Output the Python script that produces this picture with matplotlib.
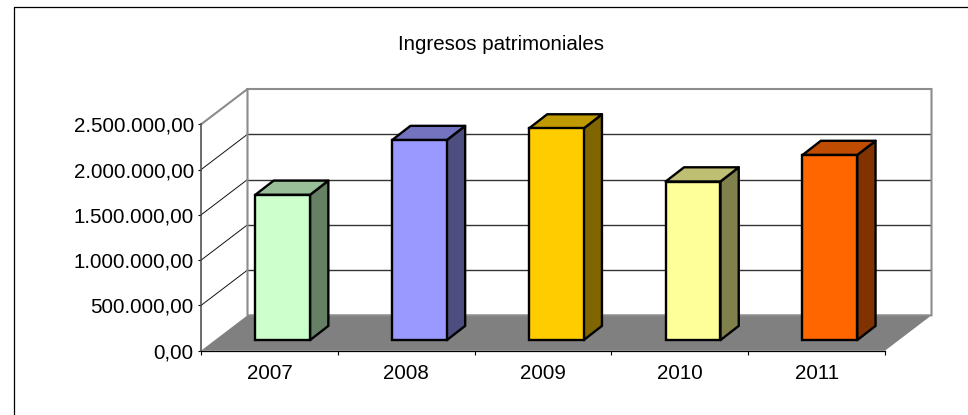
import matplotlib
matplotlib.use("Agg")
import matplotlib.pyplot as plt
from matplotlib.lines import Line2D
from matplotlib.patches import Polygon
from matplotlib.ticker import FuncFormatter

plt.rcParams['font.family'] = ['Liberation Sans', 'DejaVu Sans']

years = ['2007', '2008', '2009', '2010', '2011']
ingresos = [1605000, 2210000, 2338000, 1752000, 2045000]
y_ticks = [0, 500000, 1000000, 1500000, 2000000, 2500000]
front_colors = ['#CCFFCC', '#9999FF', '#FFCC00', '#FFFF99', '#FF6600']
top_colors = ['#99BF99', '#7373BF', '#BF9900', '#BFBF73', '#BF4C00']
side_colors = ['#668066', '#4D4D80', '#806600', '#80804D', '#803300']

# fake 3d depth, in data units
depth_x = 0.34
depth_y = 391000
bar_w = 0.40
bar_dx = 0.134
bar_dy = 157000
off_x = (depth_x - bar_dx) / 2 - 0.006
off_y = (depth_y - bar_dy) / 2
y_max = y_ticks[-1]
n = len(years)

W, H = 968, 415
fig = plt.figure(figsize=(W / 100, H / 100), dpi=100)
ax = fig.add_axes([201 / W, (H - 350.7) / H, 730.5 / W, 261.7 / H])
ax.set_xlim(0, n + depth_x)
ax.set_ylim(0, y_max + depth_y)
ax.patch.set_visible(False)

# floor and walls
ax.add_patch(Polygon([(0, 0), (n, 0), (n + depth_x, depth_y), (depth_x, depth_y)],
                     facecolor='#808080', edgecolor='none', zorder=1))
for v in y_ticks[1:-1]:
    ax.plot([depth_x, n + depth_x], [v + depth_y, v + depth_y], color='#333333', lw=1.0, zorder=2)
    ax.plot([0, depth_x], [v, v + depth_y], color='#111111', lw=0.7, zorder=2)
wall_x = [0, depth_x, n + depth_x, n + depth_x, depth_x, depth_x]
wall_y = [y_max, y_max + depth_y, y_max + depth_y, depth_y, depth_y, y_max + depth_y]
ax.plot(wall_x, wall_y, color='#8C8C8C', lw=1.5, zorder=2, clip_on=False, solid_joinstyle='miter')

# bars
for i in range(n):
    v = ingresos[i]
    x0 = i + 0.5 - bar_w / 2 + off_x
    x1 = x0 + bar_w
    y0 = off_y
    y1 = off_y + v
    ax.add_patch(Polygon([(x1, y0), (x1 + bar_dx, y0 + bar_dy), (x1 + bar_dx, y1 + bar_dy), (x1, y1)],
                         facecolor=side_colors[i], edgecolor='black', lw=1.7, zorder=3, joinstyle='round'))
    ax.add_patch(Polygon([(x0, y1), (x1, y1), (x1 + bar_dx, y1 + bar_dy), (x0 + bar_dx, y1 + bar_dy)],
                         facecolor=top_colors[i], edgecolor='black', lw=1.7, zorder=3, joinstyle='round'))
    ax.add_patch(Polygon([(x0, y0), (x1, y0), (x1, y1), (x0, y1)],
                         facecolor=front_colors[i], edgecolor='black', lw=1.7, zorder=4, joinstyle='miter'))

# axes
for s in ['top', 'right']:
    ax.spines[s].set_visible(False)
ax.spines['left'].set_bounds(0, y_max)
ax.spines['bottom'].set_bounds(0, n)
ax.spines['left'].set_linewidth(1.1)
ax.spines['left'].set_color('#444444')
ax.spines['bottom'].set_linewidth(0.9)
ax.spines['left'].set_zorder(5)
ax.spines['bottom'].set_zorder(5)

ax.set_yticks(y_ticks)
ax.yaxis.set_major_formatter(FuncFormatter(lambda v, p: f'{v:,.2f}'.replace(',', ' ').replace('.', ',').replace(' ', '.')))
ax.tick_params(axis='y', length=2.2, width=0.8, pad=3, labelsize=14.8)
ax.set_xticks(range(n + 1))
ax.set_xticklabels([])
ax.tick_params(axis='x', which='major', length=3.2, width=0.8)
ax.set_xticks([i + 0.5 for i in range(n)], minor=True)
ax.set_xticklabels(years, minor=True)
ax.tick_params(axis='x', which='minor', length=0, pad=9.5, labelsize=14.8)

fig.text(500.5 / W, (H - 50) / H, 'Ingresos patrimoniales', ha='center', va='baseline', fontsize=14.8)

# chart frame, runs off right and bottom
fig.add_artist(Line2D([13.5 / W, 13.5 / W, 1], [0, (H - 7.5) / H, (H - 7.5) / H],
                      transform=fig.transFigure, color='black', lw=0.9))

fig.savefig('out.png', dpi=100)
